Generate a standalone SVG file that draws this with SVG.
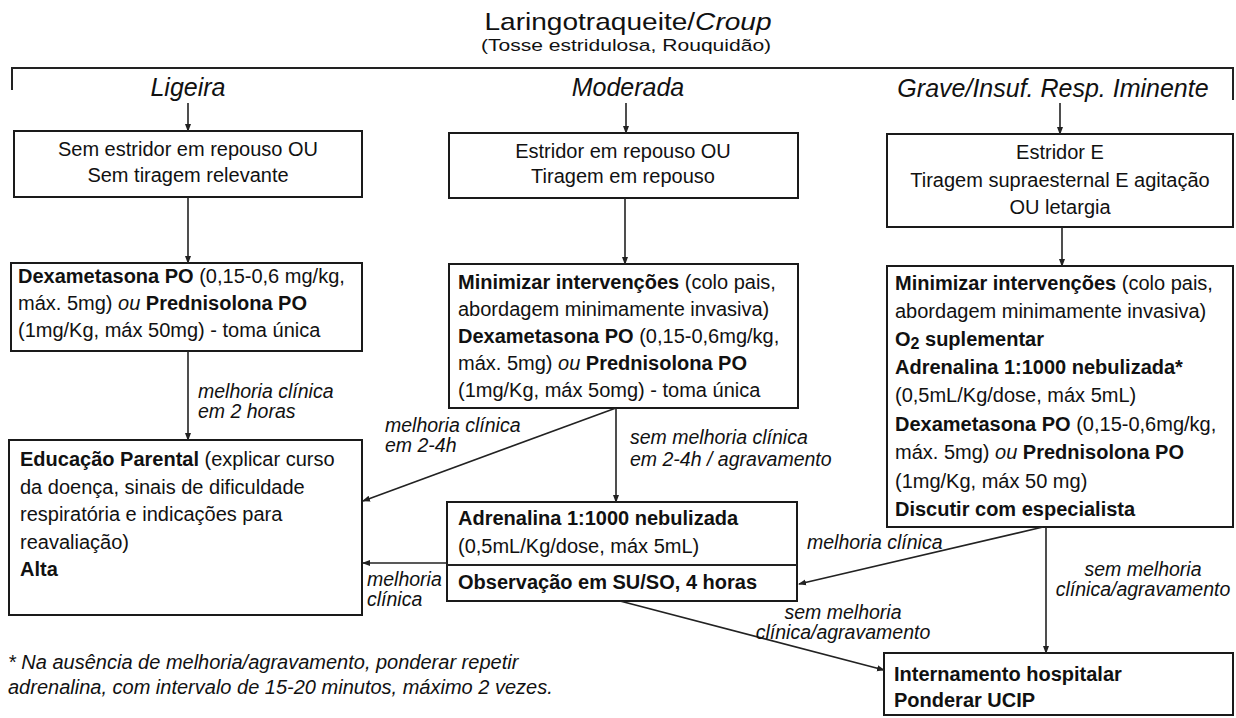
<svg xmlns="http://www.w3.org/2000/svg" width="1236" height="718" viewBox="0 0 1236 718">
<style>
.box{fill:#fff;stroke:#1a1a1a;stroke-width:2}
.t{font-family:"Liberation Sans",Arial,sans-serif;font-size:20px;fill:#111}
.b{font-weight:bold}
.i{font-style:italic}
.c{text-anchor:middle}
.lbl{font-family:"Liberation Sans",Arial,sans-serif;font-size:19.5px;font-style:italic;fill:#111}
.conn{stroke:#222;stroke-width:1.6;fill:none;marker-end:url(#ah)}
.ln{stroke:#222;stroke-width:2;fill:none}
</style>
<defs>
<marker id="ah" markerUnits="userSpaceOnUse" markerWidth="8" markerHeight="8" refX="7" refY="4" orient="auto"><path d="M0,1 L8,4 L0,7 z" fill="#222"/></marker>
</defs>
<rect width="1236" height="718" fill="#fff"/>

<g id="title">
<text class="t c" transform="translate(628,30) scale(1.17,1)" x="0" y="0" style="font-size:24px">Laringotraqueite/<tspan class="i">Croup</tspan></text>
<text class="t c" transform="translate(626,51) scale(1.24,1)" x="0" y="0" style="font-size:17px">(Tosse estridulosa, Rouquidão)</text>
<path class="ln" d="M12,90 L12,68 L1233,68 L1233,100"/>
</g>

<g id="cat-ligeira"><text class="t i c" x="188" y="96" style="font-size:25px">Ligeira</text></g>
<g id="cat-moderada"><text class="t i c" x="628" y="96" style="font-size:25px">Moderada</text></g>
<g id="cat-grave"><text class="t i c" x="1053" y="97" style="font-size:25px">Grave/Insuf. Resp. Iminente</text></g>

<g id="n1">
<rect class="box" x="14" y="131" width="348" height="66"/>
<text class="t c" x="188" y="156">Sem estridor em repouso OU</text>
<text class="t c" x="188" y="182">Sem tiragem relevante</text>
</g>

<g id="n2">
<rect class="box" x="449" y="133" width="349" height="65"/>
<text class="t c" x="623" y="158">Estridor em repouso OU</text>
<text class="t c" x="623" y="183">Tiragem em repouso</text>
</g>

<g id="n3">
<rect class="box" x="887" y="134" width="346" height="93"/>
<text class="t c" x="1060" y="159">Estridor E</text>
<text class="t c" x="1060" y="187">Tiragem supraesternal E agitação</text>
<text class="t c" x="1060" y="214">OU letargia</text>
</g>

<g id="n4">
<rect class="box" x="11" y="263" width="351" height="88"/>
<text class="t" x="18" y="283"><tspan class="b">Dexametasona PO</tspan> (0,15-0,6 mg/kg,</text>
<text class="t" x="18" y="310">máx. 5mg) <tspan class="i">ou</tspan> <tspan class="b">Prednisolona PO</tspan></text>
<text class="t" x="18" y="337">(1mg/Kg, máx 50mg) - toma única</text>
</g>

<g id="n5">
<rect class="box" x="449" y="264" width="349" height="144"/>
<text class="t" x="458" y="289"><tspan class="b">Minimizar intervenções</tspan> (colo pais,</text>
<text class="t" x="458" y="316">abordagem minimamente invasiva)</text>
<text class="t" x="458" y="343"><tspan class="b">Dexametasona PO</tspan> (0,15-0,6mg/kg,</text>
<text class="t" x="458" y="370">máx. 5mg) <tspan class="i">ou</tspan> <tspan class="b">Prednisolona PO</tspan></text>
<text class="t" x="458" y="397">(1mg/Kg, máx 5omg) - toma única</text>
</g>

<g id="n6">
<rect class="box" x="887" y="266" width="346" height="261"/>
<text class="t" x="895" y="290"><tspan class="b">Minimizar intervenções</tspan> (colo pais,</text>
<text class="t" x="895" y="318">abordagem minimamente invasiva)</text>
<text class="t b" x="895" y="346">O<tspan style="font-size:16px" dy="3">2</tspan><tspan dy="-3"> suplementar</tspan></text>
<text class="t b" x="895" y="374">Adrenalina 1:1000 nebulizada*</text>
<text class="t" x="895" y="402">(0,5mL/Kg/dose, máx 5mL)</text>
<text class="t" x="895" y="431"><tspan class="b">Dexametasona PO</tspan> (0,15-0,6mg/kg,</text>
<text class="t" x="895" y="459">máx. 5mg) <tspan class="i">ou</tspan> <tspan class="b">Prednisolona PO</tspan></text>
<text class="t" x="895" y="488">(1mg/Kg, máx 50 mg)</text>
<text class="t b" x="895" y="516">Discutir com especialista</text>
</g>

<g id="n7">
<rect class="box" x="9" y="440" width="353" height="175"/>
<text class="t" x="20" y="466"><tspan class="b">Educação Parental</tspan> (explicar curso</text>
<text class="t" x="20" y="494">da doença, sinais de dificuldade</text>
<text class="t" x="20" y="521">respiratória e indicações para</text>
<text class="t" x="20" y="549">reavaliação)</text>
<text class="t b" x="20" y="576">Alta</text>
</g>

<g id="n8">
<rect class="box" x="447" y="502" width="350" height="99"/>
<line class="ln" x1="447" y1="565" x2="797" y2="565"/>
<text class="t b" x="458" y="525">Adrenalina 1:1000 nebulizada</text>
<text class="t" x="458" y="553">(0,5mL/Kg/dose, máx 5mL)</text>
<text class="t b" x="458" y="589">Observação em SU/SO, 4 horas</text>
</g>

<g id="n9">
<rect class="box" x="884" y="653" width="349" height="62"/>
<text class="t b" x="894" y="681">Internamento hospitalar</text>
<text class="t b" x="894" y="707">Ponderar UCIP</text>
</g>

<g id="footnote">
<text class="t i" x="8" y="669">* Na ausência de melhoria/agravamento, ponderar repetir</text>
<text class="t i" x="8" y="694">adrenalina, com intervalo de 15-20 minutos, máximo 2 vezes.</text>
</g>

<g id="connectors">
<line class="conn" x1="188" y1="103" x2="188" y2="131"/>
<line class="conn" x1="626" y1="103" x2="626" y2="133"/>
<line class="conn" x1="1060" y1="103" x2="1060" y2="134"/>
<line class="conn" x1="188" y1="197" x2="188" y2="263"/>
<line class="conn" x1="625" y1="198" x2="625" y2="264"/>
<line class="conn" x1="1062" y1="227" x2="1062" y2="266"/>
<line class="conn" x1="188" y1="351" x2="188" y2="440"/>
<line class="conn" x1="616" y1="408" x2="616" y2="502"/>
<line class="conn" x1="616" y1="408" x2="363" y2="501"/>
<line class="conn" x1="447" y1="563" x2="363" y2="563"/>
<line class="conn" x1="1043" y1="527" x2="799" y2="584"/>
<line class="conn" x1="1046" y1="527" x2="1046" y2="653"/>
<line class="conn" x1="620" y1="601" x2="884" y2="670"/>
<text class="lbl" x="198" y="398">melhoria clínica</text>
<text class="lbl" x="198" y="418">em 2 horas</text>
<text class="lbl" x="630" y="444">sem melhoria clínica</text>
<text class="lbl" x="630" y="466">em 2-4h / agravamento</text>
<text class="lbl" x="385" y="432">melhoria clínica</text>
<text class="lbl" x="385" y="452">em 2-4h</text>
<text class="lbl" x="367" y="586">melhoria</text>
<text class="lbl" x="367" y="606">clínica</text>
<text class="lbl" x="807" y="549">melhoria clínica</text>
<text class="lbl c" x="1143" y="576">sem melhoria</text>
<text class="lbl c" x="1143" y="596">clínica/agravamento</text>
<text class="lbl c" x="843" y="619">sem melhoria</text>
<text class="lbl c" x="843" y="639">clínica/agravamento</text>
</g>
</svg>
